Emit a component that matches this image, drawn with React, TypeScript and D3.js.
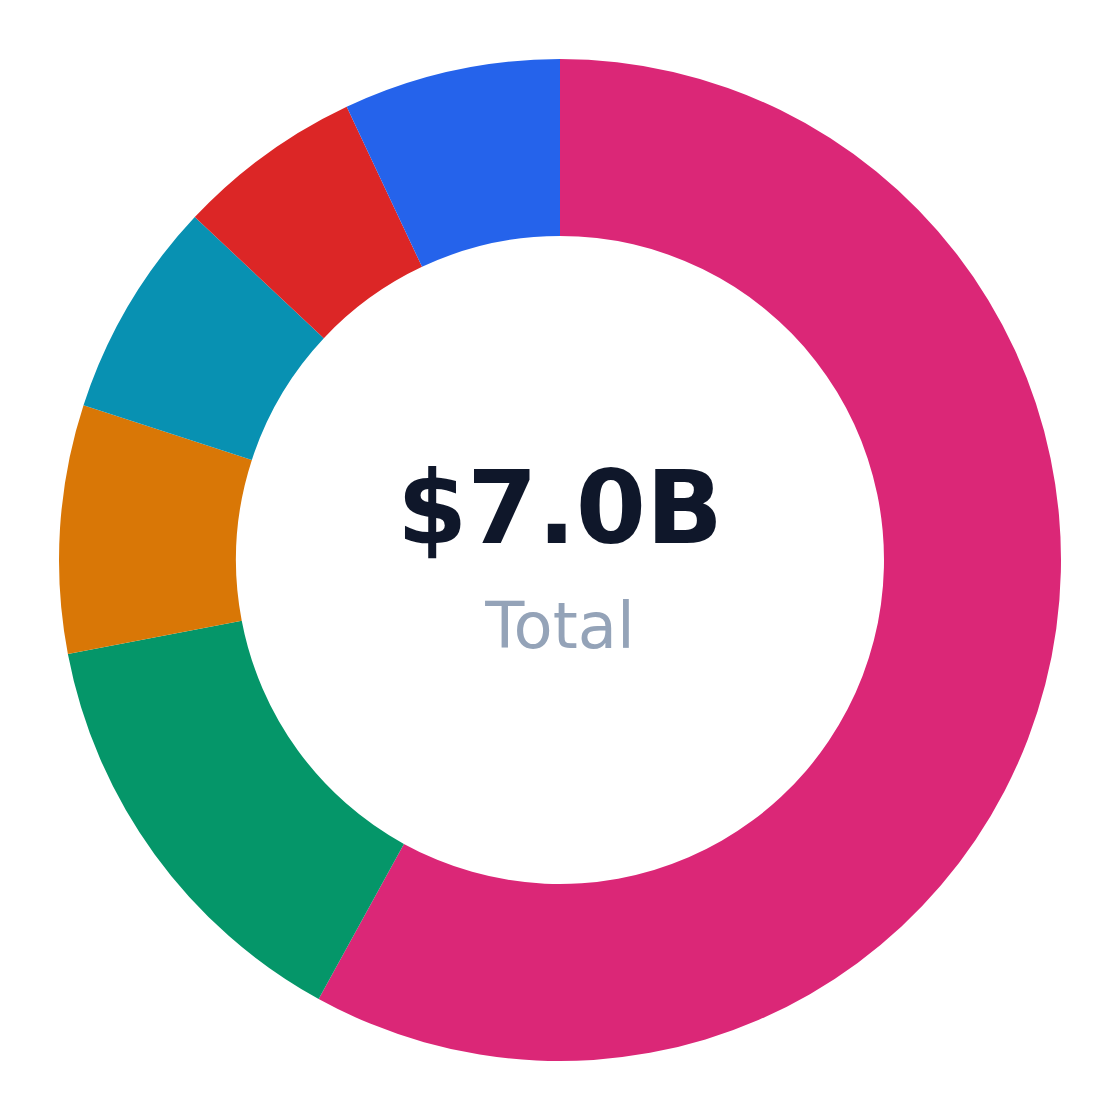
import { useMemo } from 'react';
import * as d3 from 'd3';

// segment values in $B, in drawing order (clockwise from 12 o'clock)
const segments = ['A', 'B', 'C', 'D', 'E', 'F'];
const values = [4.06, 0.98, 0.56, 0.49, 0.42, 0.49];
const colors = ['#db2777', '#059669', '#d97706', '#0891b2', '#dc2626', '#2563eb'];
const centerValue = '$7.0B';
const centerLabel = 'Total';

export default function App() {
  const width = 1120;
  const height = 1120;
  const outerRadius = 501;
  const innerRadius = 324;

  const arcs = useMemo(() => {
    const pie = d3.pie<number>().sort(null).value(d => d);
    return pie(values);
  }, []);

  const arc = d3.arc<d3.PieArcDatum<number>>()
    .innerRadius(innerRadius)
    .outerRadius(outerRadius);

  return (
    <div style={{ position: 'fixed', left: 0, top: 0, width, height, background: '#fff' }}>
      <svg width={width} height={height} style={{ display: 'block' }}>
        <g transform={`translate(${width / 2},${height / 2})`}>
          {arcs.map((a, i) => (
            <path key={segments[i]} d={arc(a) ?? ''} fill={colors[i]} />
          ))}
          <text
            x={0}
            y={-17}
            textAnchor="middle"
            fontFamily="DejaVu Sans, sans-serif"
            fontWeight="bold"
            fontSize={101}
            fill="#0f172a"
          >
            {centerValue}
          </text>
          <text
            x={0}
            y={88}
            textAnchor="middle"
            fontFamily="DejaVu Sans, sans-serif"
            fontSize={64}
            fill="#94a3b8"
          >
            {centerLabel}
          </text>
        </g>
      </svg>
    </div>
  );
}
